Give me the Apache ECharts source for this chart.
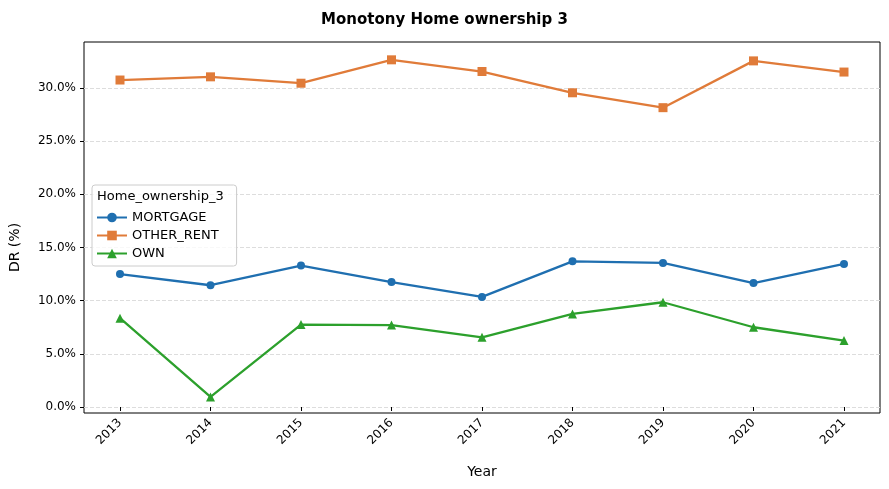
<!DOCTYPE html>
<html><head><meta charset="utf-8">
<script src="https://cdn.jsdelivr.net/npm/echarts@6/dist/echarts.min.js"></script>
<style>body{margin:0}#main{width:889px;height:489px}</style></head>
<body><div id="main"></div>
<script>
var years = [2013, 2014, 2015, 2016, 2017, 2018, 2019, 2020, 2021];
var mortgage = [12.5, 11.45, 13.3, 11.75, 10.35, 13.7, 13.55, 11.65, 13.45];
var otherRent = [30.75, 31.05, 30.45, 32.65, 31.55, 29.55, 28.15, 32.55, 31.5];
var own = [8.35, 0.95, 7.75, 7.7, 6.55, 8.75, 9.85, 7.5, 6.25];

var chart = echarts.init(document.getElementById('main'));
function pts(v) { return years.map(function (y, i) { return [y, v[i]]; }); }
function line(name, v, color, symbol) {
  return { name: name, type: 'line', data: pts(v), xAxisIndex: 2, yAxisIndex: 2, clip: false,
    color: color, symbol: symbol, symbolSize: symbol === 'circle' ? 8 : 9, showSymbol: true,
    lineStyle: { width: 2.3, color: color }, itemStyle: { color: color } };
}
chart.setOption({
  animation: false,
  title: { text: 'Monotony Home ownership 3', left: 'center', top: 8,
    textStyle: { fontFamily: 'DejaVu Sans', fontSize: 15, fontWeight: 'bold', color: '#000' } },
  grid: [
    { left: 84, right: 9, top: 42, bottom: 76, show: true, borderColor: '#000', borderWidth: 1, backgroundColor: 'transparent' },
    { left: 84, right: 9, top: 88, bottom: 82 },
    { left: 120, right: 45, top: 88, bottom: 82 }
  ],
  xAxis: [
    { gridIndex: 0, type: 'value', show: false },
    { gridIndex: 1, type: 'value', show: false },
    { gridIndex: 2, type: 'value', min: 2013, max: 2021, interval: 1, offset: 6,
      name: 'Year', nameLocation: 'middle', nameGap: 52,
      nameTextStyle: { fontFamily: 'DejaVu Sans', fontSize: 14, color: '#000' },
      axisLine: { show: false }, splitLine: { show: false },
      axisTick: { show: true, length: 4, lineStyle: { color: '#000' } },
      axisLabel: { rotate: 45, color: '#000', fontFamily: 'DejaVu Sans', fontSize: 12, margin: 8,
        formatter: function (v) { return String(v); } } }
  ],
  yAxis: [
    { gridIndex: 0, type: 'value', show: false },
    { gridIndex: 1, type: 'value', min: 0, max: 30, interval: 5,
      name: 'DR (%)', nameLocation: 'middle', nameGap: 62,
      nameTextStyle: { fontFamily: 'DejaVu Sans', fontSize: 14, color: '#000' },
      axisLine: { show: false },
      axisTick: { show: true, length: 4, lineStyle: { color: '#000' } },
      axisLabel: { color: '#000', fontFamily: 'DejaVu Sans', fontSize: 12,
        formatter: function (v) { return v.toFixed(1) + '%'; } },
      splitLine: { show: true, lineStyle: { type: 'dashed', color: '#dddddd' } } },
    { gridIndex: 2, type: 'value', min: 0, max: 30, show: false, splitLine: { show: false } }
  ],
  graphic: [{ type: 'text', left: 97, top: 190, z: 100, style: { text: 'Home_ownership_3',
    font: '13px DejaVu Sans', fill: '#000' } }],
  legend: { orient: 'vertical', left: 92, top: 185, padding: [26, 18, 6, 4], itemGap: 5,
    itemWidth: 30, itemHeight: 12, borderColor: '#ccc', borderWidth: 1, borderRadius: 3,
    backgroundColor: 'rgba(255,255,255,0.8)',
    textStyle: { fontFamily: 'DejaVu Sans', fontSize: 13, color: '#000' },
    data: ['MORTGAGE', 'OTHER_RENT', 'OWN'] },
  series: [
    line('MORTGAGE', mortgage, '#1f6fb0', 'circle'),
    line('OTHER_RENT', otherRent, '#e07b39', 'rect'),
    line('OWN', own, '#2ca02c', 'triangle')
  ]
});
</script></body></html>
